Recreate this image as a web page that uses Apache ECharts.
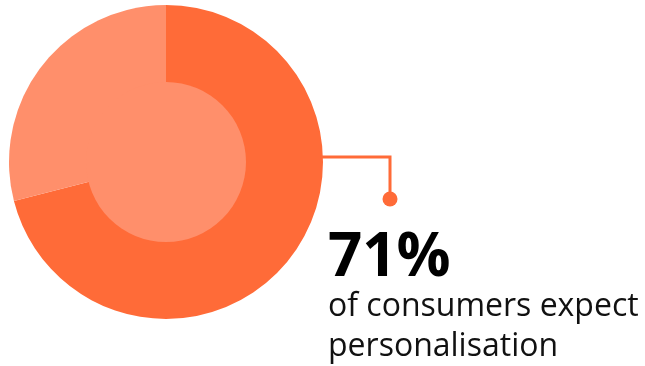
<!DOCTYPE html>
<html>
<head>
<meta charset="utf-8">
<script src="https://cdn.jsdelivr.net/npm/echarts@6/dist/echarts.min.js"></script>
<style>
  html, body { margin: 0; padding: 0; background: #ffffff; }
  #chart { width: 645px; height: 366px; }
</style>
</head>
<body>
<div id="chart"></div>
<script>
// Share of consumers who expect personalisation
const categories = ['Expect personalisation', 'Other'];
const shares = [71, 29];
const headline = '71%';
const captionLines = ['of consumers expect', 'personalisation'];

const DARK = '#ff6b38';
const LIGHT = '#ff8f6b';

const chart = echarts.init(document.getElementById('chart'), null, { renderer: 'canvas' });

const cx = 166, cy = 162, rOuter = 157, rInner = 80;
// leader line leaves the ring on its right edge, slightly above centre
const lineY = 157;
const lineStartX = cx + Math.sqrt(rOuter * rOuter - (cy - lineY) * (cy - lineY)) - 2;
const elbowX = 390, dotY = 199;

chart.setOption({
  animation: false,
  series: [
    {
      type: 'pie',
      center: [cx, cy],
      radius: [0, rOuter],
      startAngle: 90,
      clockwise: true,
      silent: true,
      label: { show: false },
      labelLine: { show: false },
      itemStyle: { borderWidth: 0 },
      data: categories.map((name, i) => ({
        name,
        value: shares[i],
        itemStyle: { color: i === 0 ? DARK : LIGHT }
      }))
    },
    {
      type: 'pie',
      center: [cx, cy],
      radius: [0, rInner],
      silent: true,
      z: 3,
      label: { show: false },
      labelLine: { show: false },
      itemStyle: { color: LIGHT, borderWidth: 0 },
      data: [{ name: 'core', value: 1 }]
    }
  ],
  graphic: [
    {
      type: 'polyline',
      z: 10,
      shape: { points: [[lineStartX, lineY], [elbowX, lineY], [elbowX, dotY]] },
      style: { stroke: DARK, lineWidth: 3, fill: null, lineJoin: 'miter' }
    },
    {
      type: 'circle',
      z: 10,
      shape: { cx: elbowX, cy: dotY, r: 7.5 },
      style: { fill: DARK }
    },
    {
      type: 'text',
      left: 328,
      top: 229,
      style: {
        text: headline,
        font: 'bold 60px "Open Sans"',
        fill: '#000000'
      }
    },
    {
      type: 'text',
      left: 328,
      top: 287,
      style: {
        text: captionLines.join('\n'),
        font: '32px "Open Sans"',
        lineHeight: 40,
        fill: '#111111'
      }
    }
  ]
});
</script>
</body>
</html>
